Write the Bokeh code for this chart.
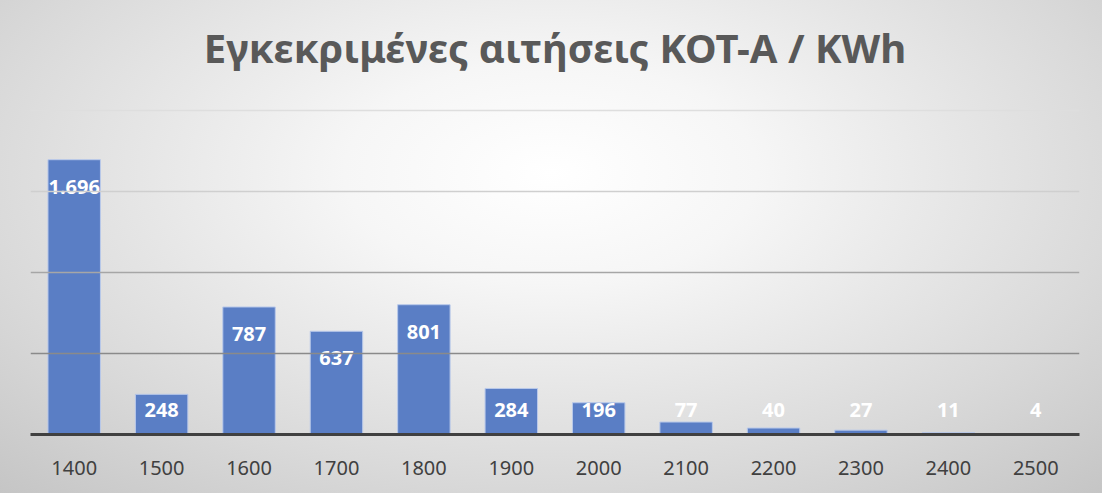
import numpy as np
from bokeh.plotting import figure
from bokeh.models import Range1d, FactorRange, ColumnDataSource, Span, Title
from bokeh.core.properties import value
from bokeh.embed import file_html
from bokeh.resources import INLINE

# ---- data ----
categories = ["1400", "1500", "1600", "1700", "1800", "1900",
              "2000", "2100", "2200", "2300", "2400", "2500"]
approvals = [1696, 248, 787, 637, 801, 284, 196, 77, 40, 27, 11, 4]
value_labels = ["1.696", "248", "787", "637", "801", "284",
                "196", "77", "40", "27", "11", "4"]
grid_values = [500, 1000, 1500, 2000]
grid_colors = ["#8a8a8a", "#a6a6a6", "#cfcfcf", "#dedede"]
title_text = "Εγκεκριμένες αιτήσεις ΚΟΤ-Α / KWh"

FONT = "Noto Sans"

p = figure(
    width=1102, height=493,
    x_range=FactorRange(*categories, range_padding=0),
    y_range=Range1d(0, 2123),
    output_backend="svg", toolbar_location=None,
    y_axis_location=None,
    min_border_left=30, min_border_right=23,
    min_border_top=90, min_border_bottom=59,
)
p.styles = {"background": "radial-gradient(ellipse 75% 90% at 50% 35%, #ffffff 0%, #f6f6f6 25%, #d9d9d9 70%, #c4c4c4 100%)"}
p.border_fill_alpha = 0
p.background_fill_alpha = 0
p.outline_line_color = None

p.add_layout(Title(text=title_text, align="center", text_font_size="40px",
                   text_color="#595959", text_font=FONT, text_font_style="bold",
                   standoff=31), "above")

p.xgrid.visible = False
p.ygrid.visible = False
for gv, gc in zip(grid_values, grid_colors):
    p.add_layout(Span(location=gv, dimension="width", line_color=gc, line_width=1.5))

src = ColumnDataSource(dict(
    x=categories, top=approvals, label=value_labels,
    ly=np.maximum(np.array(approvals, dtype=float), 320.0),
))
p.vbar(x="x", top="top", width=0.6, source=src,
       fill_color="#5a7ec5", line_color="#b9c9ea", line_width=1)
p.text(x="x", y="ly", text="label", source=src, y_offset=27,
       text_align="center", text_baseline="middle",
       text_color="white", text_font=value(FONT), text_font_style="bold",
       text_font_size="20px")

ax = p.xaxis[0]
ax.axis_line_color = "#404040"
ax.axis_line_width = 3
ax.major_tick_line_color = None
ax.minor_tick_line_color = None
ax.major_label_text_font = FONT
ax.major_label_text_font_size = "20px"
ax.major_label_text_color = "#404040"
ax.major_label_standoff = 20

open("out.html", "w").write(file_html(p, INLINE))
